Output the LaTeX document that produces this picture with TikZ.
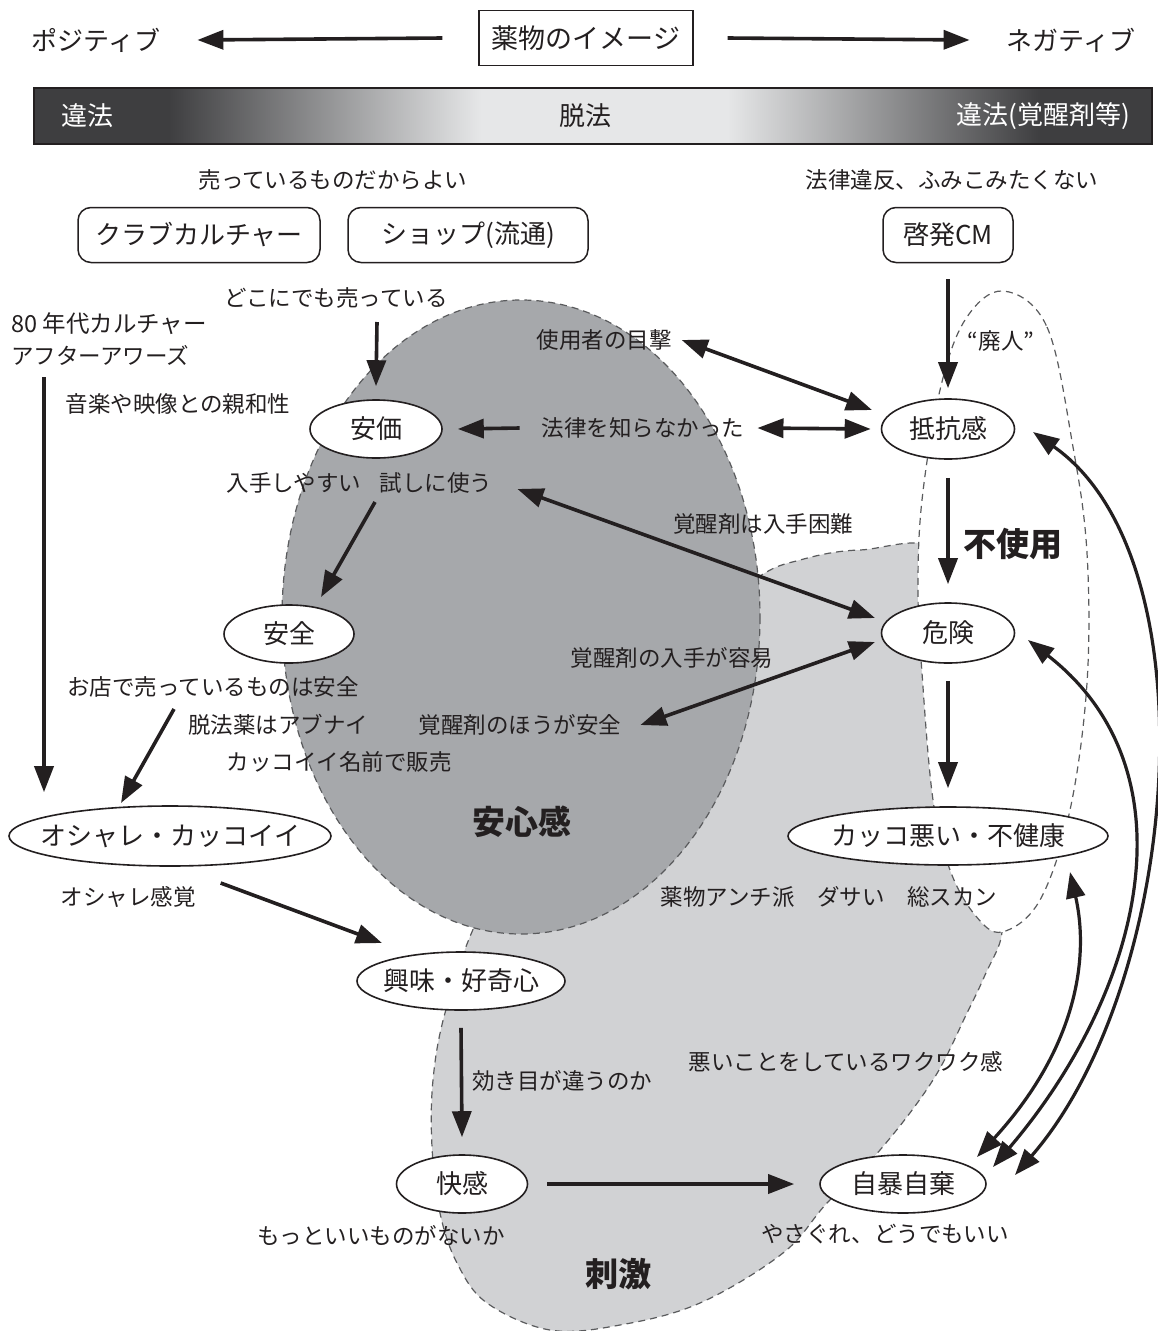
\documentclass[tikz,border=0pt]{standalone}
\usepackage{fontspec}
\setmainfont{Noto Sans CJK JP}
\usetikzlibrary{arrows.meta,calc,shapes.geometric}
\definecolor{ink}{HTML}{231F20}
\definecolor{darkg}{HTML}{A6A8AB}
\definecolor{lightg}{HTML}{D1D2D4}
\definecolor{dashc}{HTML}{5A5B5D}
\definecolor{barD}{HTML}{3E3E40}
\definecolor{barL}{HTML}{E6E7E8}
\pgfdeclarehorizontalshading{barshade}{100bp}{color(0bp)=(barD); color(31bp)=(barD); color(45bp)=(barL); color(56bp)=(barL); color(70bp)=(barD); color(100bp)=(barD)}
\newcommand{\zw}[1]{\makebox[0pt]{#1}}
\begin{document}
\begin{tikzpicture}[x=1pt,y=-1pt,
  >={Triangle[length=26pt,width=19pt]},
  lbl/.style={inner sep=0pt, text=ink, font=\fontsize{22.5}{26}\selectfont},
  toplbl/.style={inner sep=0pt, text=ink, font=\fontsize{26}{30}\selectfont},
  ell/.style={ellipse, draw=ink, line width=1.6pt, fill=white, inner sep=0pt, text=ink, font=\fontsize{26}{30}\selectfont},
  rbox/.style={draw=ink, line width=1.5pt, rounded corners=13pt, fill=white, inner sep=0pt, text=ink, minimum height=55pt, font=\fontsize{26}{30}\selectfont},
  boldlbl/.style={inner sep=0pt, text=ink, font=\fontsize{33}{36}\selectfont\bfseries},
  arr/.style={->, draw=ink, line width=3.6pt},
  darr/.style={<->, draw=ink, line width=3.6pt},
  carr/.style={<->, draw=ink, line width=3.2pt},
  zone/.style={draw=dashc, line width=1.2pt, dash pattern=on 7pt off 5pt}]
\useasboundingbox (0,0) rectangle (1158,1331);
\fill[white] (0,0) rectangle (1158,1331);

% ---- top row
\node[toplbl] (posi) at (96,40) {ポジティブ};
\node[toplbl] (nega) at (1071,40) {ネガティブ};
\node[draw=ink, line width=1.3pt, fill=white, inner sep=0pt, minimum width=214pt, minimum height=55pt, text=ink, font=\fontsize{27}{30}\selectfont] (title) at (586,38) {薬物のイメージ};
\draw[arr] ([xshift=-36pt]title.west) -- ([xshift=37pt]posi.east);
\draw[arr] ([xshift=34pt]title.east) -- ([xshift=-37pt]nega.west);

% ---- gradient bar
\shade[shading=barshade] (34,88) rectangle (1152,144);
\draw[ink, line width=1.2pt] (34,88) rectangle (1152,144);
\node[toplbl, text=white] (ihou1) at (87,116) {違法};
\node[toplbl] (dappou) at (585,116) {脱法};
\node[toplbl, text=white, anchor=east] (ihou2) at (1130,116) {違法(覚醒剤等)};

% ---- zones
\path[fill=lightg, zone] plot[smooth cycle, tension=0.6] coordinates {
  (680,640) (757,578) (800,560) (860,550) (945,556) (960,700) (990,890) (1002,932)
  (985,975) (967,1013) (933,1080) (880,1150) (827,1203) (783,1253) (700,1303)
  (620,1325) (550,1330) (487,1303) (457,1263) (440,1213) (432,1147) (433,1080)
  (445,1013) (475,925) (520,850)};
\path[fill=darkg, zone] (521,617) ellipse [x radius=239, y radius=317];
\path[fill=white, zone] plot[smooth cycle, tension=0.6] coordinates {
  (1003,291) (1047,327) (1073,447) (1087,553) (1087,683) (1070,810) (1040,900)
  (1002,932) (975,915) (950,870) (933,800) (922,673) (918,590) (922,500)
  (940,390) (965,320)};

% ---- upper labels and boxes
\node[lbl] (ureteiru) at (333,180) {売っているものだからよい};
\node[lbl] (houritsuihan) at (952,180) {法律違反、ふみこみたくない};
\node[rbox, minimum width=242pt] (club) at (199,235) {クラブカルチャー};
\node[rbox, minimum width=240pt] (shop) at (468,235) {ショップ(流通)};
\node[rbox, minimum width=130pt] (cm) at (948,235) {啓発CM};

\node[lbl] (dokoni) at (336,298) {どこにでも売っている};
\node[lbl, anchor=west, font=\fontsize{23.5}{26}\selectfont] (eighty) at (11,324) {80 年代カルチャー};
\node[lbl, anchor=west] (after) at (11,355) {アフターアワーズ};
\node[lbl] (ongaku) at (178,404) {音楽や映像との親和性};
\node[lbl] (shiyou) at (604,340) {使用者の目撃};
\node[lbl] (hou) at (643,428) {法律を知らなかった};
\node[lbl] (haijin) at (1001,341) {“廃人”};
\node[lbl] (nyuushu) at (294,483) {入手しやすい};
\node[lbl] (tameshi) at (436,483) {試しに使う};
\node[lbl] (konnan) at (763,524) {覚醒剤は入手困難};
\node[boldlbl] (fushiyou) at (1013,544) {不使用};
\node[lbl] (youi) at (672,658) {覚醒剤の入手が容易};
\node[lbl] (omise) at (213,687) {お店で売っているものは安全};
\node[lbl] (abunai) at (278,725) {脱法薬はアブナイ};
\node[lbl] (kakusei3) at (520,725) {覚醒剤のほうが安全};
\node[lbl] (namae) at (339,762) {カッコイイ名前で販売};
\node[boldlbl] (anshin) at (522,822) {安心感};
\node[lbl] (oshkan) at (128,897) {オシャレ感覚};
\node[lbl] (anti) at (829,897) {薬物アンチ派　ダサい　総スカン};
\node[lbl] (waku) at (846,1062) {悪いことをしているワクワク感};
\node[lbl] (kikime) at (562,1081) {効き目が違うのか};
\node[lbl] (motto) at (381,1236) {もっといいものがないか};
\node[lbl] (yasagure) at (885,1234) {やさぐれ、どうでもいい};
\node[boldlbl] (shigeki) at (618,1274) {刺激};

% ---- ellipse nodes
\node[ell, minimum width=132pt, minimum height=58pt] (anka) at (376,429) {\zw{安価}};
\node[ell, minimum width=133pt, minimum height=60pt] (teikou) at (948,429) {\zw{抵抗感}};
\node[ell, minimum width=130pt, minimum height=58pt] (anzen) at (289,634) {\zw{安全}};
\node[ell, minimum width=133pt, minimum height=60pt] (kiken) at (948,633) {\zw{危険}};
\node[ell, minimum width=322pt, minimum height=60pt] (oshare) at (170,836) {\zw{オシャレ・カッコイイ}};
\node[ell, minimum width=320pt, minimum height=58pt] (kakko) at (948,836) {\zw{カッコ悪い・不健康}};
\node[ell, minimum width=208pt, minimum height=58pt] (kyoumi) at (461,981) {\zw{興味・好奇心}};
\node[ell, minimum width=131pt, minimum height=58pt] (kaikan) at (462,1184) {\zw{快感}};
\node[ell, minimum width=166pt, minimum height=58pt] (jibou) at (903,1184) {\zw{自暴自棄}};

% ---- straight connectors
\draw[arr] ($(dokoni.center)+(41,24)$) -- ([yshift=13pt]anka.north);
\draw[arr] ([yshift=-16pt]cm.south) -- ([yshift=10pt]teikou.north);
\draw[darr] ([xshift=10pt]shiyou.east) -- ($(teikou.center)+(-76,-19)$);
\draw[arr] ([xshift=-22pt]hou.west) -- ([xshift=15pt]anka.east);
\draw[darr] ([xshift=13pt]hou.east) -- ([xshift=-10pt]teikou.west);
\draw[arr] ([yshift=-18pt]teikou.south) -- ([yshift=18pt]kiken.north);
\draw[darr] ($(tameshi.east)+(25,6)$) -- ($(kiken.center)+(-73,-15)$);
\draw[darr] ([xshift=19pt]kakusei3.east) -- ($(kiken.center)+(-73,9)$);
\draw[arr] ($(tameshi.center)+(-61,19)$) -- ($(anzen.center)+(32,-37)$);
\draw[arr] ($(omise.center)+(-39,22)$) -- ($(oshare.center)+(-49,-33)$);
\draw[arr] ($(after.south west)+(33,12)$) coordinate (lstart) -- ($(lstart |- oshare.north)+(0,-13)$);
\draw[arr] ($(oshkan.east)+(25,-14)$) -- ($(kyoumi.center)+(-79,-38)$);
\draw[arr] ([yshift=-17pt]kyoumi.south) -- ([yshift=17pt]kaikan.north);
\draw[arr] ([xshift=19pt]kaikan.east) -- ([xshift=-25pt]jibou.west);
\draw[arr] ([yshift=-17pt]kiken.south) -- ([yshift=18pt]kakko.north);

% ---- curved connectors
\draw[carr] ($(kakko.center)+(122,36)$) .. controls ($(kakko.center)+(142,124)$) and ($(jibou.center)+(172,-134)$) .. ($(jibou.center)+(74,-27)$);
\draw[carr] ($(kiken.center)+(80,7)$) .. controls ($(kiken.center)+(249,139)$) and ($(jibou.center)+(239,-192)$) .. ($(jibou.center)+(90,-17)$);
\draw[carr] ($(teikou.center)+(85,3)$) .. controls ($(teikou.center)+(267,131)$) and ($(jibou.center)+(277,-199)$) .. ($(jibou.center)+(112,-9)$);
\end{tikzpicture}
\end{document}
